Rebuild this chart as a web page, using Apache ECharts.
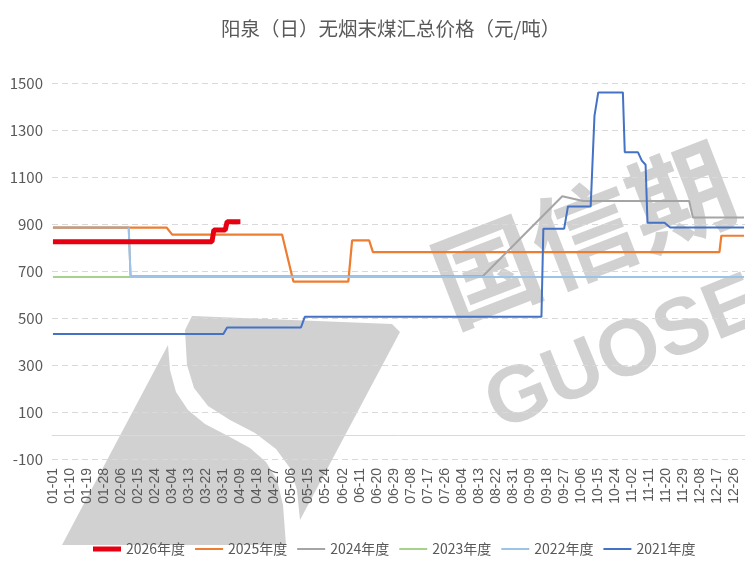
<!DOCTYPE html>
<html>
<head>
<meta charset="utf-8">
<script src="https://cdn.jsdelivr.net/npm/echarts@6/dist/echarts.min.js"></script>
<style>
  html, body { margin: 0; padding: 0; background: #fff; }
  #chart { width: 745px; height: 565px; }
</style>
</head>
<body>
<div id="chart"></div>
<script>
// daily categories of a leap year, labels every 9th day
const monthDays = [31, 29, 31, 30, 31, 30, 31, 31, 30, 31, 30, 31]
const dates = []
monthDays.forEach((n, m) => {
  for (let d = 1; d <= n; d++) {
    dates.push(String(m + 1).padStart(2, '0') + '-' + String(d).padStart(2, '0'))
  }
})

const seriesNames = ['2026年度', '2025年度', '2024年度', '2023年度', '2022年度', '2021年度']

// change points: [date, price]
const y2026 = [['01-01', 825], ['03-25', 825], ['03-26', 875], ['04-01', 875], ['04-02', 910], ['04-09', 910]]
const y2025 = [['01-01', 885], ['03-01', 885], ['03-04', 855], ['05-01', 855], ['05-07', 655], ['06-05', 655],
  ['06-07', 830], ['06-16', 830], ['06-18', 780], ['12-18', 780], ['12-19', 850], ['12-31', 850]]
const y2024 = [['01-01', 885], ['02-10', 885], ['02-11', 678], ['08-15', 678], ['09-26', 1018], ['10-07', 998],
  ['12-02', 998], ['12-04', 928], ['12-31', 928]]
const y2023 = [['01-01', 675], ['02-11', 675]]
const y2022 = [['02-10', 885], ['02-11', 675], ['12-31', 675]]
const y2021 = [['01-01', 432], ['03-31', 432], ['04-02', 460], ['05-11', 460], ['05-13', 505], ['09-15', 505],
  ['09-16', 880], ['09-27', 880], ['09-29', 975], ['10-11', 975], ['10-13', 1360], ['10-14', 1360],
  ['10-15', 1460], ['10-28', 1460], ['10-29', 1205], ['11-05', 1205], ['11-07', 1170], ['11-09', 1152],
  ['11-10', 905], ['11-19', 905], ['11-22', 885], ['12-31', 885]]

const chart = echarts.init(document.getElementById('chart'))
const narrow = "'Liberation Sans Narrow', 'Noto Sans CJK SC', sans-serif"
const wm = 'rgba(135,135,135,0.38)'
// thin legend bar inside a 5px tall box, so the red one can be thicker
const thinIcon = 'path://M0,0L28,0L28,0.01Z M0,1.5L28,1.5L28,3.5L0,3.5Z M0,5L28,5L28,4.99Z'

function line(name, data, color, width, z) {
  return {
    name: name,
    type: 'line',
    data: data,
    showSymbol: false,
    symbol: 'none',
    z: z || 2,
    lineStyle: { color: color, width: width },
    itemStyle: { color: color },
  }
}

chart.setOption({
  animation: false,
  title: {
    text: '阳泉（日）无烟末煤汇总价格（元/吨）',
    left: 216,
    top: 14,
    textStyle: {
      fontFamily: "'Noto Sans CJK SC', sans-serif",
      fontWeight: 'normal',
      fontSize: 19.5,
      color: '#595959',
    },
  },
  // watermark logo
  graphic: [
    {
      type: 'polygon',
      z: -1,
      shape: {
        points: [[62, 545], [168, 345], [170, 370], [176, 392], [188, 410], [205, 424], [228, 436], [250, 448],
          [266, 462], [277, 480], [283, 505], [286, 545]],
      },
      style: { fill: wm },
    },
    {
      type: 'polygon',
      z: -1,
      shape: {
        points: [[192, 316], [392, 324], [400, 332], [300, 520], [297, 490], [290, 468], [276, 449], [255, 433],
          [230, 420], [208, 406], [194, 388], [187, 365], [185, 330]],
      },
      style: { fill: wm },
    },
    {
      type: 'text',
      z: -1,
      x: 438,
      y: 290,
      rotation: 0.37,
      style: {
        text: '国信期',
        font: "bold 104px 'Noto Sans CJK SC'",
        fill: wm,
        align: 'left',
        verticalAlign: 'middle',
      },
    },
    {
      type: 'text',
      z: -1,
      x: 490,
      y: 410,
      rotation: 0.39,
      style: {
        text: 'GUOSEN',
        font: "bold 80px 'Liberation Sans'",
        fill: wm,
        align: 'left',
        verticalAlign: 'middle',
      },
    },
  ],
  legend: {
    data: seriesNames.map((n, i) => ({ name: n, icon: i === 0 ? 'rect' : thinIcon })),
    bottom: 4,
    left: 88,
    itemWidth: 28,
    itemHeight: 5,
    itemGap: 10,
    textStyle: { fontFamily: narrow, fontSize: 14, color: '#595959' },
  },
  grid: {
    left: 52,
    right: -5,
    top: 83,
    bottom: 106,
  },
  xAxis: {
    type: 'category',
    data: dates,
    boundaryGap: true,
    axisLine: { lineStyle: { color: '#d9d9d9', width: 1 } },
    axisTick: { show: false },
    axisLabel: {
      interval: 8,
      rotate: 90,
      margin: 9,
      fontFamily: "'Liberation Sans', sans-serif",
      fontSize: 14,
      color: '#595959',
    },
  },
  yAxis: {
    type: 'value',
    min: -100,
    max: 1500,
    interval: 200,
    axisLine: { show: false },
    axisTick: { show: false },
    axisLabel: {
      margin: 9,
      fontFamily: narrow,
      fontSize: 15,
      color: '#595959',
      formatter: (v) => String(v),
    },
    splitLine: { lineStyle: { color: '#d9d9d9', type: [6, 4] } },
  },
  series: [
    line('2026年度', y2026, '#e60012', 5, 5),
    line('2025年度', y2025, '#ed7d31', 2.2),
    line('2024年度', y2024, '#a5a5a5', 2),
    line('2023年度', y2023, '#a9d18e', 2),
    line('2022年度', y2022, '#9dc3e6', 2),
    line('2021年度', y2021, '#4472c4', 2),
  ],
})
</script>
</body>
</html>
